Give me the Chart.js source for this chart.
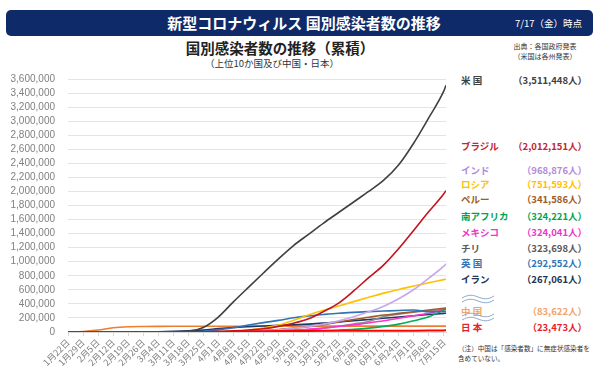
<!DOCTYPE html>
<html><head><meta charset="utf-8">
<script src="https://cdn.jsdelivr.net/npm/chart.js@4"></script>
<style>
html,body{margin:0;padding:0;background:#fff;}
body{width:600px;height:378px;position:relative;overflow:hidden;font-family:"Noto Sans CJK JP",sans-serif;}
#bar{position:absolute;left:6px;top:10px;width:587px;height:26px;background:#0f2a68;border-radius:5px;}
#bar .t{position:absolute;left:0;width:596px;top:0;line-height:26px;text-align:center;color:#fff;font-weight:bold;font-size:15px;}
#bar .d{position:absolute;right:11px;top:0;line-height:26px;color:#fff;font-size:9.5px;}
#title{position:absolute;left:130px;width:300px;top:38px;text-align:center;font-weight:bold;font-size:14.5px;color:#222;line-height:20px;}
#sub{position:absolute;left:130px;width:284px;top:56px;text-align:center;font-size:9.5px;color:#333;line-height:14px;}
#src{position:absolute;left:500px;width:90px;top:42px;text-align:center;font-size:7px;color:#333;line-height:9.5px;}
.lg{position:absolute;left:461px;width:126px;height:14px;line-height:14px;font-size:9.5px;font-weight:bold;}
.lg .v{position:absolute;right:0;top:0;}
#note{position:absolute;left:458px;top:343px;font-size:6.6px;color:#333;line-height:10px;white-space:nowrap;}
.wave{position:absolute;left:461px;}
#cv{position:absolute;left:0;top:60px;}
</style></head>
<body>
<div id="bar"><div class="t">新型コロナウィルス 国別感染者数の推移</div><div class="d">7/17（金）時点</div></div>
<div id="title">国別感染者数の推移（累積）</div>
<div id="sub">（上位10か国及び中国・日本）</div>
<div id="src">出典：各国政府発表<br>（米国は各州発表）</div>
<div id="legend"></div>
<svg class="wave" style="top:294px" width="34" height="11"><path d="M1,4 C8,0 12,1 17,3 S27,6 33,2" fill="none" stroke="#8fa9c9" stroke-width="1"/><path d="M1,8 C8,4 12,5 17,7 S27,10 33,6" fill="none" stroke="#8fa9c9" stroke-width="1"/></svg>
<svg class="wave" style="top:312px" width="34" height="11"><path d="M1,4 C8,0 12,1 17,3 S27,6 33,2" fill="none" stroke="#8fa9c9" stroke-width="1"/><path d="M1,8 C8,4 12,5 17,7 S27,10 33,6" fill="none" stroke="#8fa9c9" stroke-width="1"/></svg>
<div id="note">（注）中国は「感染者数」に無症状感染者を<br>含めていない。</div>
<canvas id="cv" width="455" height="318"></canvas>
<script>
// day index from 1月22日
const days = [0,7,14,21,28,35,42,49,56,63,70,77,84,91,98,105,112,119,126,133,140,147,154,161,168,175,176];
const tickLabels = ['1月22日','1月29日','2月5日','2月12日','2月19日','2月26日','3月4日','3月11日','3月18日','3月25日','4月1日','4月8日','4月15日','4月22日','4月29日','5月6日','5月13日','5月20日','5月27日','6月3日','6月10日','6月17日','6月24日','7月1日','7月8日','7月15日'];

const usa = [1,5,12,13,15,59,149,1281,9000,65000,213000,429000,636000,840000,1040000,1230000,1390000,1550000,1700000,1850000,2000000,2160000,2380000,2690000,3050000,3430000,3511448];
const brazil = [0,0,0,0,0,1,4,52,428,2554,6836,16188,28320,45757,79685,125218,188974,291579,411821,584016,772416,955377,1188631,1448753,1713160,1966748,2012151];
const india = [0,1,3,3,3,3,28,62,151,657,1998,5916,12322,21370,33062,52952,78055,112359,158086,216824,287155,366946,473105,604641,767296,936181,968876];
const russia = [0,0,2,2,2,2,3,20,147,658,2777,8672,24490,57999,99399,165929,242271,308705,370680,432277,493023,553301,606043,653479,700792,745197,751593];
const peru = [0,0,0,0,0,0,0,11,145,480,1323,4342,11475,19250,33931,54817,76306,104020,141779,178914,208823,240908,264689,288477,312911,337724,341586];
const southAfrica = [0,0,0,0,0,0,0,13,116,709,1380,1845,2506,3635,5350,7572,11350,17200,25937,37525,55421,80412,111796,159333,215855,311049,324221];
const mexico = [0,0,0,0,0,0,5,8,118,475,1378,3181,5847,10544,17799,27634,38324,56594,78023,101238,129184,159793,196847,231770,268008,317635,324041];
const chile = [0,0,0,0,0,0,1,23,238,1142,3031,5546,8273,11296,16023,23048,34381,53617,82289,113628,148496,220628,254416,282043,301019,321205,323698];
const uk = [0,0,2,8,9,13,87,459,2689,9640,29865,61474,98476,133495,165221,202359,229705,249619,267240,279856,290143,298136,306210,313483,287620,291373,292552];
const iran = [0,0,0,0,2,139,2922,9000,17361,27017,47593,64586,76389,85996,93657,101650,112725,126949,141591,160696,177938,195051,212501,230211,248379,264561,267061];
const china = [571,7711,28018,59804,74576,78497,80409,80793,80928,81285,81589,81865,82295,82798,82858,82883,82926,82967,82995,83022,83057,83293,83449,83537,83581,83612,83622];
const japan = [1,7,20,28,73,164,268,568,873,1193,2384,4768,8100,11496,13929,15354,15968,16385,16651,16930,17332,17628,18110,18723,20371,22890,23473];

const names = ['米 国','ブラジル','インド','ロシア','ペルー','南アフリカ','メキシコ','チリ','英 国','イラン','中 国','日 本'];
const finals = ['（3,511,448人）','（2,012,151人）','（968,876人）','（751,593人）','（341,586人）','（324,221人）','（324,041人）','（323,698人）','（292,552人）','（267,061人）','（83,622人）','（23,473人）'];
const series = [usa,brazil,india,russia,peru,southAfrica,mexico,chile,uk,iran,china,japan];
const lineColors = ['#404040','#c0141e','#c9a6ec','#ffc000','#9e5a28','#00b050','#ff33cc','#8c8c8c','#2e75b6','#1f3864','#ed7d31','#ff0000'];
const textColors = ['#404040','#c0282e','#b28bd9','#ffc000','#9e5a28','#00a550','#ee35c8','#595959','#2e75b6','#24324f','#f4a46b','#e8202a'];
const legendY = [80,146,170,184,199,216,232,248,263,279,311,327];

const lg = document.getElementById('legend');
names.forEach((n,i)=>{
  const d=document.createElement('div');
  d.className='lg';
  d.style.top=(legendY[i]-7)+'px';
  d.style.color=textColors[i];
  d.innerHTML='<span>'+n+'</span><span class="v">'+finals[i]+'</span>';
  lg.appendChild(d);
});

// draw order: first dataset on top
const drawOrder = [11,0,1,2,3,8,4,5,6,7,9,10];
const datasets = drawOrder.map(i=>({
  label: names[i],
  data: days.map((d,k)=>({x:d,y:series[i][k]})),
  borderColor: lineColors[i],
  backgroundColor: lineColors[i],
  borderWidth: i===11?2:1.6,
  pointRadius: 0,
  cubicInterpolationMode: 'monotone',
  fill: false
}));

new Chart(document.getElementById('cv'), {
  type: 'line',
  data: { datasets },
  options: {
    responsive: false,
    animation: false,
    devicePixelRatio: 1,
    layout: { padding: { top: 13, right: 9, left: 0, bottom: 0 } },
    plugins: { legend: { display: false }, tooltip: { enabled: false } },
    scales: {
      x: {
        type: 'linear', min: 0, max: 176,
        grid: { drawOnChartArea: false, drawTicks: true, tickLength: 4, color: '#d9d9d9' },
        border: { display: true, color: '#d9d9d9' },
        ticks: {
          stepSize: 7, includeBounds: false, autoSkip: false,
          maxRotation: 45, minRotation: 45, padding: 1,
          color: '#808080', font: { family: '"Noto Sans CJK JP"', size: 9 },
          callback: (v)=> tickLabels[Math.round(v/7)]
        },
        afterFit: (s)=>{ s.height = 46; }
      },
      y: {
        min: 0, max: 3600000,
        grid: { drawTicks: false, color: '#e4e4e4' },
        border: { display: false },
        ticks: {
          stepSize: 200000, padding: 13, autoSkip: false,
          color: '#808080', font: { family: '"Liberation Sans"', size: 10 },
          callback: (v)=> v.toLocaleString('en-US')
        },
        afterFit: (s)=>{ s.width = 68; }
      }
    }
  }
});
</script>
</body></html>
